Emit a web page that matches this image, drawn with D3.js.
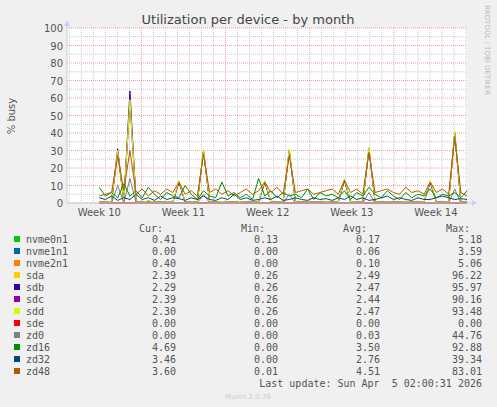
<!DOCTYPE html>
<html><head><meta charset="utf-8">
<script src="https://cdn.jsdelivr.net/npm/d3@7"></script>
<style>body{margin:0;background:#f0f0f0}</style>
</head><body><div class="canvas"></div>
<script>
const names = ["nvme0n1","nvme1n1","nvme2n1","sda","sdb","sdc","sdd","sde","zd0","zd16","zd32","zd48"];
const colorsList = ["#00cc00","#0066b3","#ff8000","#ffcc00","#330099","#990099","#ccff00","#ff0000","#808080","#008f00","#00487d","#b35a00"];
const cur = ["0.41","0.00","0.40","2.39","2.29","2.39","2.30","0.00","0.00","4.69","3.46","3.60"];
const mins = ["0.13","0.00","0.00","0.26","0.26","0.26","0.26","0.00","0.00","0.00","0.00","0.01"];
const avgs = ["0.17","0.06","0.10","2.49","2.47","2.44","2.47","0.00","0.03","3.50","2.76","4.51"];
const maxs = ["5.18","3.59","5.06","96.22","95.97","90.16","93.48","0.00","44.76","92.88","39.34","83.01"];
const yTicks = [0,10,20,30,40,50,60,70,80,90,100];
const weekLabels = ["Week 10","Week 11","Week 12","Week 13","Week 14"];

// 61 samples, Mar 5 12:00 -> Apr 5 02:00
const sddV = [0.6,0.5,1,30,0.8,59,0.6,0.5,1.2,0.6,0.5,0.8,0.6,13,0.5,0.7,0.6,31,0.6,0.5,0.9,0.5,0.6,0.8,0.5,0.6,0.7,13,0.6,0.5,0.8,31,0.6,0.5,0.7,0.6,0.5,0.8,0.6,0.5,14,0.6,0.7,0.5,32,0.6,0.5,0.7,0.6,0.5,0.8,0.6,0.5,0.7,13,0.6,0.5,0.7,41,0.6,0.5];
const sdaV = [0.6,0.5,0.9,29,0.7,58,0.6,0.5,1,0.6,0.5,0.7,0.6,12,0.5,0.7,0.6,30,0.6,0.5,0.8,0.5,0.6,0.7,0.5,0.6,0.7,12,0.6,0.5,0.8,30,0.6,0.5,0.7,0.6,0.5,0.8,0.6,0.5,13,0.6,0.7,0.5,31,0.6,0.5,0.7,0.6,0.5,0.8,0.6,0.5,0.7,12,0.6,0.5,0.7,40,0.6,0.5];
const sdbV = [0.6,0.5,0.9,31,0.7,64,0.6,0.5,1,0.6,0.5,0.7,0.6,12,0.5,0.7,0.6,30,0.6,0.5,0.8,0.5,0.6,0.7,0.5,0.6,0.7,12,0.6,0.5,0.8,30,0.6,0.5,0.7,0.6,0.5,0.8,0.6,0.5,13,0.6,0.7,0.5,31,0.6,0.5,0.7,0.6,0.5,0.8,0.6,0.5,0.7,12,0.6,0.5,0.7,40,0.6,0.5];
const zd16V = [9,4,6,3,11,4,7,3,9,5,2,6,4,3,10,5,2,7,4,3,12,4,6,3,5,2,14,4,7,3,6,4,5,3,8,2,6,4,5,3,7,2,6,4,9,5,3,7,4,2,6,3,5,4,8,3,5,4,6,3,7];
const zd32V = [3,2,4,1.5,3,2,5,2,3,1.5,4,2,3,2.5,1.5,3,2,4,2,1.5,3,2,5,2,3,1.5,2,3,2,4,1.5,2,3,2,1.5,3,2,2.5,1.5,3,2,4,2,3,1.5,2,3,4,2,3,2,1.5,3,2,2,3,4,3,2,2.5,2];
const zd48V = [4,5,6,27,7,30,5,8,4,7,5,8,6,12,5,7,4,28,6,8,5,7,4,6,8,5,7,12,6,9,5,27,6,7,8,5,6,7,8,5,13,6,8,5,29,6,7,8,6,5,9,6,7,5,12,6,8,5,38,6,4];
const zd0V = [0,0,0,10,0,14,0,0,0,0,0,0,0,0,0,0,0,5,0,0,0,0,0,0,0,0,0,0,0,0,0,5,0,0,0,0,0,0,0,0,0,0,0,0,6,0,0,0,0,0,0,0,0,0,0,0,0,0,8,0,0];
const nvme0V = [0.2,0.1,0.2,0.3,0.1,0.2,0.2,0.1,0.2,0.3,0.2,0.1,0.2,0.2,0.1,0.2,0.3,0.2,0.1,0.2,0.2,0.1,0.2,0.2,0.1,0.3,0.2,0.1,0.2,0.2,0.1,0.2,0.2,0.1,0.2,0.3,0.2,0.1,0.2,0.2,0.1,0.2,0.2,0.1,0.2,0.3,0.2,0.1,0.2,0.2,0.1,0.2,0.2,0.1,0.2,0.3,0.2,0.1,0.2,0.2,0.4];
const valuesBy = {nvme0n1:nvme0V, sda:sdaV, sdb:sdbV, sdc:sdaV, sdd:sddV, zd0:zd0V, zd16:zd16V, zd32:zd32V, zd48:zd48V};

const W = 497, H = 407;
const svg = d3.select(".canvas").append("svg").attr("width", W).attr("height", H)
  .style("font-family", "DejaVu Sans");

const x = d3.scaleTime()
  .domain([new Date(2026,2,2,19,30), new Date(2026,3,5,2,0)])
  .range([67, 467]);
const y = d3.scaleLinear().domain([0, 100]).range([203, 28]);

const t0 = new Date(2026,2,5,12,0), t1 = new Date(2026,3,5,2,0);
const times = d3.range(61).map(i => new Date(+t0 + (t1 - t0) * i / 60));

svg.append("rect").attr("x", 67).attr("y", 28).attr("width", 400).attr("height", 175).attr("fill", "white");

// grid
const g = svg.append("g");
d3.range(0, 101, 5).forEach(v => {
  g.append("line").attr("x1", 67).attr("x2", 467).attr("y1", y(v)).attr("y2", y(v))
    .attr("stroke", v % 10 === 0 ? "#e88" : "#bbb").attr("stroke-dasharray", "1,1").attr("stroke-width", 0.8);
});
d3.timeDay.range(x.domain()[0], x.domain()[1]).forEach(d => {
  const major = d.getDay() === 1;
  g.append("line").attr("x1", x(d)).attr("x2", x(d)).attr("y1", 28).attr("y2", 203)
    .attr("stroke", major ? "#e88" : "#bbb").attr("stroke-dasharray", "1,1").attr("stroke-width", 0.8);
});

// series
const line = d3.line().x((d, i) => x(times[i])).y(d => y(d));
names.forEach((n, k) => {
  const vals = valuesBy[n] || d3.range(61).map(() => 0);
  svg.append("path").datum(vals).attr("d", line).attr("fill", "none")
    .attr("stroke", colorsList[k]).attr("stroke-width", 1);
});

// axes
svg.append("line").attr("x1", 67).attr("x2", 472).attr("y1", 203).attr("y2", 203).attr("stroke", "#ccd");
svg.append("line").attr("x1", 67).attr("x2", 67).attr("y1", 22).attr("y2", 203).attr("stroke", "#ccd");
svg.append("path").attr("d", "M472,200 L477,203 L472,206 Z").attr("fill", "#ccf");
svg.append("path").attr("d", "M64,26 L67,20 L70,26 Z").attr("fill", "#ccf");

svg.selectAll(".yt").data(yTicks).enter().append("text")
  .attr("x", 63).attr("y", d => y(d) + 4).attr("text-anchor", "end")
  .attr("font-size", 10).attr("fill", "#555").text(d => d);

const weekStarts = d3.range(5).map(i => new Date(2026,2,2 + 7 * i));
svg.selectAll(".xt").data(weekLabels).enter().append("text")
  .attr("x", (d, i) => x(new Date(+weekStarts[i] + 3.5 * 864e5)))
  .attr("y", 216).attr("text-anchor", "middle").attr("font-size", 10).attr("fill", "#555").text(d => d);

svg.append("text").attr("x", 248).attr("y", 24).attr("text-anchor", "middle")
  .attr("font-size", 13).attr("fill", "#444").text("Utilization per device - by month");
svg.append("text").attr("transform", "translate(15,116) rotate(-90)").attr("text-anchor", "middle")
  .attr("font-size", 10).attr("fill", "#555").text("% busy");
svg.append("text").attr("transform", "translate(485,5) rotate(90)")
  .attr("font-size", 7).attr("fill", "#bbb").text("RRDTOOL / TOBI OETIKER");

// legend
const mono = svg.append("g").style("font-family", "DejaVu Sans Mono").attr("font-size", 10).attr("fill", "#555");
[["Cur:",163],["Min:",265],["Avg:",367],["Max:",470]].forEach(([t, xx]) =>
  mono.append("text").attr("x", xx).attr("y", 232).attr("text-anchor", "end").text(t));
names.forEach((n, k) => {
  const yy = 243 + k * 12;
  mono.append("rect").attr("x", 14).attr("y", yy - 7).attr("width", 6).attr("height", 6).attr("fill", colorsList[k]);
  mono.append("text").attr("x", 26).attr("y", yy).text(n);
  [[cur,176],[mins,278],[avgs,380],[maxs,482]].forEach(([arr, xx]) =>
    mono.append("text").attr("x", xx).attr("y", yy).attr("text-anchor", "end").text(arr[k]));
});
mono.append("text").attr("x", 482).attr("y", 387).attr("text-anchor", "end").attr("xml:space", "preserve")
  .text("Last update: Sun Apr  5 02:00:31 2026");
svg.append("text").attr("x", 248).attr("y", 399).attr("text-anchor", "middle")
  .attr("font-size", 7).attr("fill", "#ccc").text("Munin 2.0.76");
</script></body></html>
